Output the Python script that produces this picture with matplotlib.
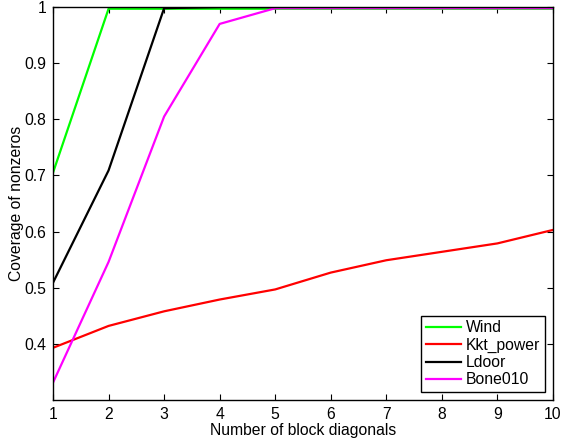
import matplotlib
matplotlib.use("Agg")
import matplotlib.pyplot as plt

plt.rcParams['font.family'] = ['Liberation Sans', 'DejaVu Sans']
plt.rcParams['font.size'] = 11.3

diagonals = [1, 2, 3, 4, 5, 6, 7, 8, 9, 10]
wind = [0.705, 0.997, 0.997, 0.997, 0.997, 0.997, 0.997, 0.997, 0.997, 0.997]
kkt_power = [0.393, 0.432, 0.458, 0.479, 0.497, 0.527, 0.549, 0.564, 0.579, 0.603]
ldoor = [0.509, 0.709, 0.998, 1.0, 1.0, 1.0, 1.0, 1.0, 1.0, 1.0]
bone010 = [0.331, 0.546, 0.805, 0.970, 0.998, 0.998, 0.998, 0.998, 0.998, 0.998]

fig = plt.figure(figsize=(5.61, 4.42), dpi=100)
ax = fig.add_axes([0.0945, 0.095, 0.8912, 0.889])

ax.plot(diagonals, wind, color='#00ff00', lw=1.6, label='Wind')
ax.plot(diagonals, kkt_power, color='#ff0000', lw=1.6, label='Kkt_power')
ax.plot(diagonals, ldoor, color='#000000', lw=1.6, label='Ldoor')
ax.plot(diagonals, bone010, color='#ff00ff', lw=1.6, label='Bone010')

ax.set_xlim(1, 10)
ax.set_ylim(0.3, 1)
ax.set_xticks(diagonals)
ax.set_yticks([0.4, 0.5, 0.6, 0.7, 0.8, 0.9, 1.0])
ax.set_yticklabels(['0.4', '0.5', '0.6', '0.7', '0.8', '0.9', '1'])
ax.tick_params(direction='in', top=True, right=True, length=4, width=0.8, pad=5)
for s in ax.spines.values():
    s.set_linewidth(1.0)

ax.set_xlabel('Number of block diagonals', labelpad=1)
ax.set_ylabel('Coverage of nonzeros', labelpad=0)

leg = ax.legend(loc='lower right', fancybox=False, framealpha=1,
                edgecolor='black', borderaxespad=0.5, handlelength=2.2,
                labelspacing=0.15, borderpad=0.3, handletextpad=0.35)
leg.get_frame().set_linewidth(1.0)

fig.savefig('out.png', dpi=100)
